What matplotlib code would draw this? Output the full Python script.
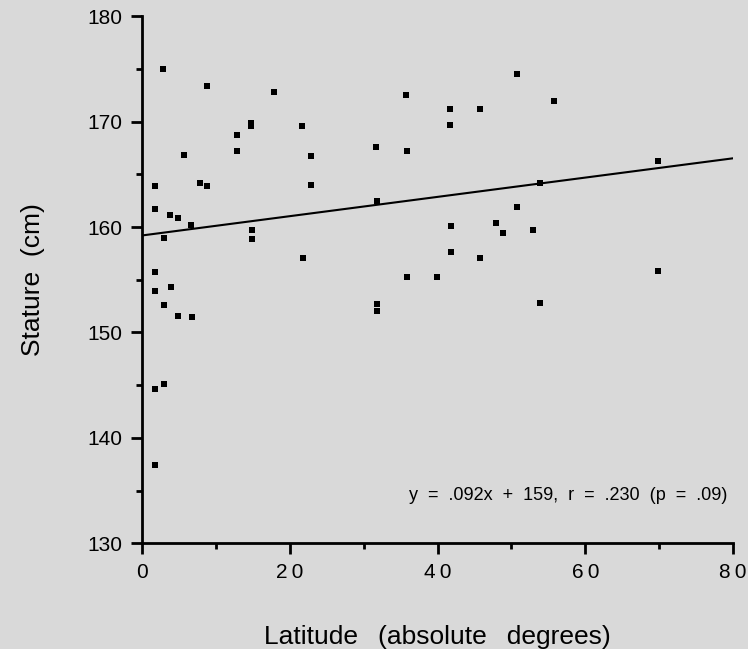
import numpy as np
import matplotlib.pyplot as plt
from matplotlib.ticker import MultipleLocator

# Datos
latitud = [2.8, 8.8, 17.8, 5.7, 12.8, 12.8, 14.7, 14.7, 21.7, 22.9, 22.9,
           1.7, 1.7, 7.8, 8.8, 3.8, 4.8, 6.6, 2.9, 14.9, 14.9, 21.8,
           1.7, 1.7, 3.9, 2.9, 4.8, 6.8, 1.8, 2.9, 1.8,
           35.7, 50.7, 55.7, 41.7, 45.7, 41.7, 31.7, 35.8, 69.8, 53.9,
           31.8, 50.7, 41.8, 47.9, 48.9, 52.9, 41.8, 45.8, 35.8, 39.9,
           69.9, 53.9, 31.8, 31.8]
estatura = [175.0, 173.4, 172.8, 166.8, 168.7, 167.2, 169.9, 169.6, 169.6, 166.7, 164.0,
            163.9, 161.7, 164.2, 163.9, 161.1, 160.9, 160.2, 159.0, 159.7, 158.9, 157.1,
            155.7, 153.9, 154.3, 152.6, 151.6, 151.5, 144.6, 145.1, 137.4,
            172.5, 174.5, 172.0, 171.2, 171.2, 169.7, 167.6, 167.2, 166.3, 164.2,
            162.5, 161.9, 160.1, 160.4, 159.4, 159.7, 157.6, 157.1, 155.3, 155.3,
            155.8, 152.8, 152.7, 152.0]

pendiente = 0.0915
intercepto = 159.2
texto_ajuste = "y  =  .092x  +  159,  r  =  .230  (p  =  .09)"

plt.rcParams['font.family'] = ['Liberation Sans', 'DejaVu Sans']

fig = plt.figure(figsize=(7.48, 6.49), dpi=100, facecolor='#d9d9d9')
ax = fig.add_axes([0.19, 0.163, 0.79, 0.812])
ax.set_facecolor('#d9d9d9')

ax.scatter(latitud, estatura, marker='s', s=22, color='black', linewidths=0)
xl = np.array([0, 80])
ax.plot(xl, intercepto + pendiente * xl, color='black', lw=1.5)

ax.set_xlim(0, 80)
ax.set_ylim(130, 180)
ax.xaxis.set_major_locator(MultipleLocator(20))
ax.xaxis.set_minor_locator(MultipleLocator(10))
ax.yaxis.set_major_locator(MultipleLocator(10))
ax.yaxis.set_minor_locator(MultipleLocator(5))
ax.set_xticks([0, 20, 40, 60, 80])
ax.set_xticklabels(['0', '2\u20090', '4\u20090', '6\u20090', '8\u20090'])

for s in ['top', 'right']:
    ax.spines[s].set_visible(False)
for s in ['left', 'bottom']:
    ax.spines[s].set_linewidth(2)
ax.tick_params(which='major', length=8, width=2, labelsize=15, pad=6)
ax.tick_params(which='minor', length=4, width=2)

ax.set_xlabel('Latitude  \u2009(absolute  \u2009degrees)', fontsize=19, labelpad=31)
ax.set_ylabel('Stature  (cm)', fontsize=19, labelpad=31)
ax.text(0.99, 0.09, texto_ajuste, transform=ax.transAxes, ha='right',
        va='center', fontsize=13)

plt.savefig('out.png', dpi=100, facecolor='#d9d9d9')
